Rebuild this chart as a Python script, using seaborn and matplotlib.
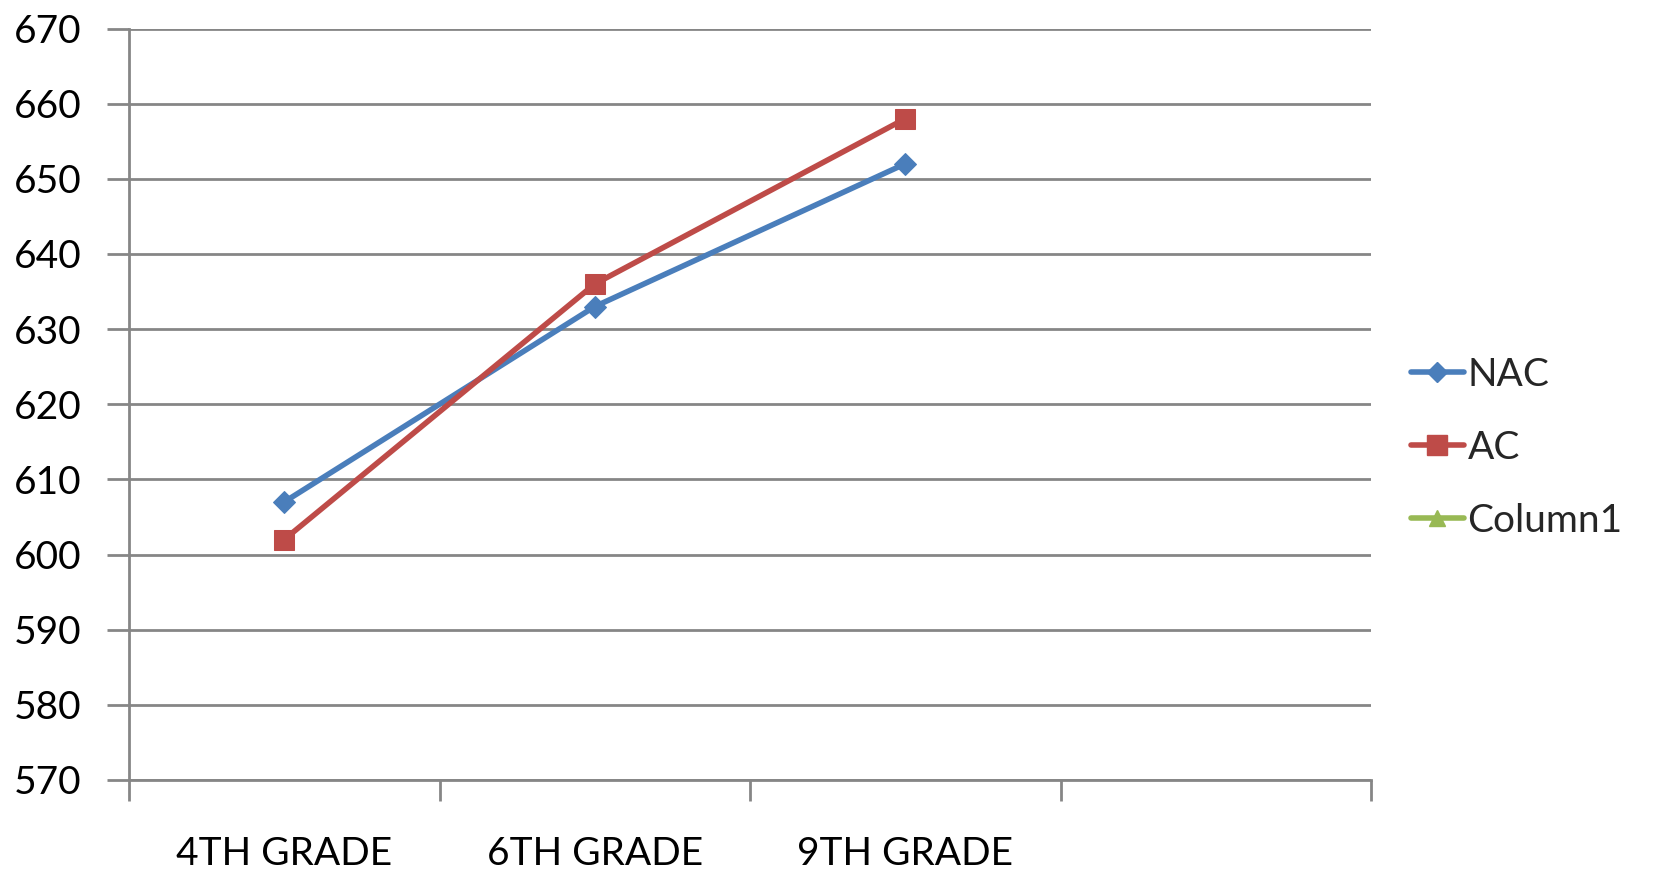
import matplotlib
matplotlib.use("Agg")
import matplotlib.pyplot as plt
import seaborn as sns
import numpy as np
import pandas as pd
from matplotlib.lines import Line2D
from matplotlib.ticker import FixedLocator, MultipleLocator

grades = ["4TH GRADE", "6TH GRADE", "9TH GRADE"]
nac = [607, 633, 652]
ac = [602, 636, 658]
column1 = [np.nan, np.nan, np.nan]
series_names = ["NAC", "AC", "Column1"]
colors = ["#4A7EBB", "#BE4B48", "#98B954"]

sns.set_theme(style="white")
plt.rcParams['font.family'] = ['Lato', 'DejaVu Sans']

fig = plt.figure(figsize=(16.56, 8.75), dpi=100)
ax = fig.add_axes([0.0779, 0.1086, 0.75, 0.8588])

df = pd.DataFrame({"grade": grades * 2,
                   "score": nac + ac,
                   "series": ["NAC"] * 3 + ["AC"] * 3})

lw = 4.0
sns.lineplot(data=df[df.series == "NAC"], x="grade", y="score", ax=ax,
             color=colors[0], linewidth=lw, marker="D", markersize=11,
             markeredgecolor=colors[0], sort=False)
sns.lineplot(data=df[df.series == "AC"], x="grade", y="score", ax=ax,
             color=colors[1], linewidth=lw, marker="s", markersize=15,
             markeredgecolor=colors[1], sort=False)
ax.plot(np.arange(len(grades)), column1, color=colors[2], linewidth=lw,
        marker="^", markersize=11)

ax.set_xlim(-0.5, 3.5)
ax.set_ylim(570, 670)
ax.yaxis.set_major_locator(MultipleLocator(10))
ax.xaxis.set_major_locator(FixedLocator([-0.5, 0.5, 1.5, 2.5, 3.5]))
ax.xaxis.set_minor_locator(FixedLocator([0, 1, 2]))
ax.set_xticklabels([], minor=False)
ax.set_xticklabels(grades, minor=True)
ax.tick_params(axis="x", which="major", direction="out", length=15, width=2,
               color="#868686", bottom=True)
ax.tick_params(axis="x", which="minor", length=0, pad=40, labelsize=28,
               labelcolor="black")
ax.tick_params(axis="y", which="major", direction="out", length=16, width=2,
               color="#868686", left=True, labelsize=28, pad=18,
               labelcolor="black")

ax.grid(axis="y", color="#868686", linewidth=2)
ax.grid(axis="x", visible=False)
for s in ["top", "right"]:
    ax.spines[s].set_visible(False)
for s in ["left", "bottom"]:
    ax.spines[s].set_color("#868686")
    ax.spines[s].set_linewidth(2)
ax.set_xlabel("")
ax.set_ylabel("")
ax.set_axisbelow(True)

handles = [
    Line2D([], [], color=colors[0], linewidth=lw, marker="D", markersize=10),
    Line2D([], [], color=colors[1], linewidth=lw, marker="s", markersize=14),
    Line2D([], [], color=colors[2], linewidth=lw, marker="^", markersize=11),
]
fig.legend(handles, series_names, loc="center left",
           bbox_to_anchor=(0.831, 0.488), frameon=False, fontsize=28,
           handlelength=1.35, handletextpad=0.1, labelspacing=0.95)

fig.savefig("out.png", dpi=100, facecolor="white")
